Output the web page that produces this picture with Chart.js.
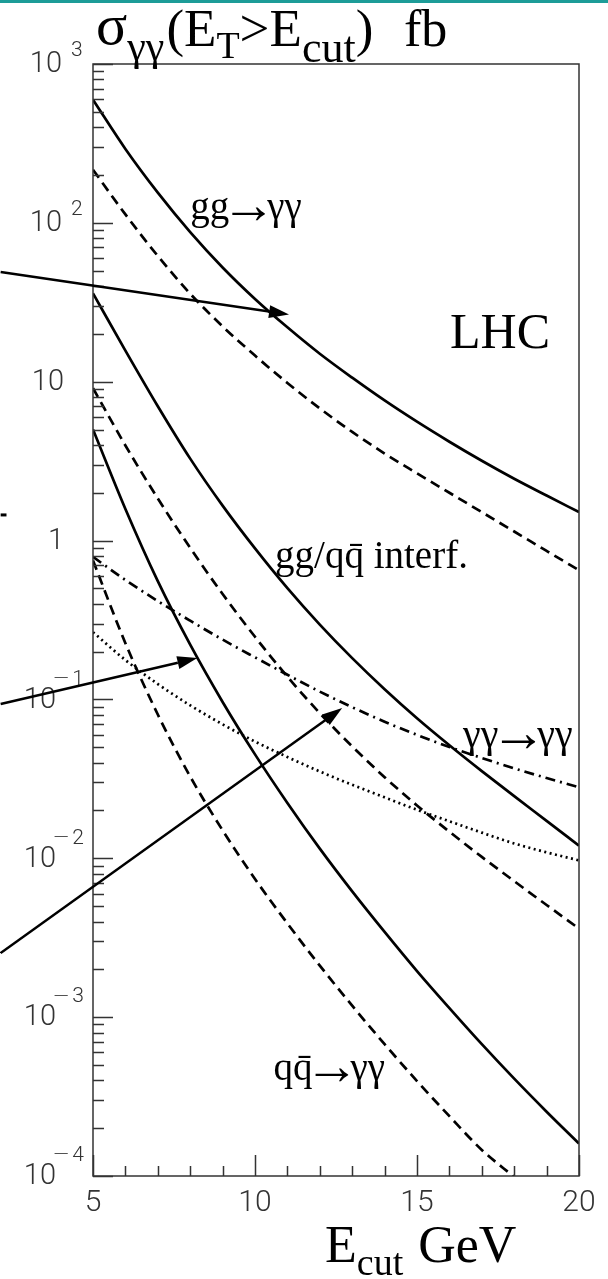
<!DOCTYPE html>
<html>
<head>
<meta charset="utf-8">
<script src="https://cdn.jsdelivr.net/npm/chart.js@4.4.1/dist/chart.umd.min.js"></script>
<style>
  html, body { margin: 0; padding: 0; background: #fff; }
  #wrap { position: relative; width: 608px; height: 1279px; }
</style>
</head>
<body>
<div id="wrap"><canvas id="chart" width="608" height="1279"></canvas></div>
<script>
// E_cut values (GeV)
const energies = [5, 6, 7, 8, 9, 10, 11, 12, 13, 14, 15, 16, 17, 18, 19, 20];

// cross sections in fb
const ggSolid = [596, 292, 155, 87.5, 52.4, 33.2, 22.0, 15.0, 10.6, 7.62, 5.60, 4.19, 3.18, 2.45, 1.92, 1.51];
const ggDashed = [216, 113, 61.9, 35.8, 22.3, 14.6, 9.82, 6.79, 4.83, 3.53, 2.65, 2.00, 1.51, 1.14, 0.861, 0.650];
const interfSolid = [36.0, 15.7, 7.01, 3.28, 1.66, 0.893, 0.502, 0.296, 0.182, 0.116, 0.0762, 0.0515, 0.0354, 0.0246, 0.0172, 0.0120];
const interfDashed = [9.10, 3.97, 1.84, 0.899, 0.461, 0.248, 0.139, 0.0820, 0.0506, 0.0324, 0.0215, 0.0147, 0.0102, 0.00718, 0.00508, 0.00361];
const qqSolid = [5.00, 1.58, 0.555, 0.221, 0.0964, 0.0451, 0.0223, 0.0115, 0.00619, 0.00344, 0.00195, 0.00114, 0.000676, 0.000410, 0.000254, 0.000160];
const qqDashed = [0.750, 0.226, 0.0804, 0.0327, 0.0150, 0.00741, 0.00389, 0.00211, 0.00118, 0.000676, 0.000396, 0.000238, 0.000146, 0.0000986];
const gamgamDashDot = [0.789, 0.565, 0.416, 0.313, 0.238, 0.184, 0.143, 0.112, 0.0893, 0.0724, 0.0598, 0.0502, 0.0428, 0.0368, 0.0320, 0.0280];
const gamgamDotted = [0.265, 0.177, 0.125, 0.0918, 0.0697, 0.0543, 0.0434, 0.0352, 0.0290, 0.0242, 0.0202, 0.0171, 0.0145, 0.0124, 0.0109, 0.0097];

// axis ticks
const xTicks = [5, 6, 7, 8, 9, 10, 11, 12, 13, 14, 15, 16, 17, 18, 19, 20];
const xTickLabels = [5, 10, 15, 20];
const yDecades = [-4, -3, -2, -1, 0, 1, 2, 3];

// text in the plot, placed at data coordinates [E, sigma]; "->" marks the arrow glyph
const curveLabels = [
  { parts: ["gg", "->", "\u03b3\u03b3"], x: 8.0, y: 106, size: 39 },
  { parts: ["LHC"], x: 16.02, y: 16.3, size: 50 },
  { parts: ["gg/qq\u0304 interf."], x: 10.62, y: 0.67, size: 39 },
  { parts: ["\u03b3\u03b3", "->", "\u03b3\u03b3"], x: 16.42, y: 0.050, size: 40 },
  { parts: ["qq\u0304", "->", "\u03b3\u03b3"], x: 10.57, y: 4.0e-4, size: 39 },
];

// arrows coming in from the left of the frame: [tailE, tailSigma, headE, headSigma]
const arrows = [
  [2.15, 49, 11.05, 26.5],
  [2.15, 0.0935, 8.22, 0.182],
  [2.15, 0.00253, 12.69, 0.0883],
];
const stubs = [[2.15, 1.45, 2.33, 1.45]];

function series(vals) {
  return vals.map((v, i) => ({ x: energies[i], y: v }));
}

const serif = "'Liberation Serif', 'Times New Roman', serif";
const sans = "Roboto, 'Liberation Sans', 'DejaVu Sans', sans-serif";

function drawRuns(ctx, x, runs) {
  runs.forEach((r) => {
    ctx.font = r.font;
    ctx.fillText(r.t, x, r.y);
    x += ctx.measureText(r.t).width + (r.gap || 0);
  });
}

const decorPlugin = {
  id: "decor",
  afterDraw(chart) {
    const ctx = chart.ctx;
    const xs = chart.scales.x;
    const ys = chart.scales.y;
    const a = chart.chartArea;
    ctx.save();

    // teal band on top of the slide
    ctx.fillStyle = "#1d9c98";
    ctx.fillRect(0, 0, 608, 3);

    // frame
    ctx.strokeStyle = "#333";
    ctx.lineWidth = 1.5;
    ctx.strokeRect(a.left, a.top, a.right - a.left, a.bottom - a.top);

    // y ticks (inside, on the left)
    ctx.beginPath();
    yDecades.forEach((d) => {
      for (let m = 1; m <= 9; m++) {
        const v = m * Math.pow(10, d);
        if (v < ys.min * 0.999 || v > ys.max * 1.001) continue;
        const py = Math.round(ys.getPixelForValue(v)) + 0.5;
        ctx.moveTo(a.left, py);
        ctx.lineTo(a.left + (m === 1 ? 20 : 11), py);
      }
    });
    // x ticks (inside, on the bottom)
    xTicks.forEach((e) => {
      const px = Math.round(xs.getPixelForValue(e)) + 0.5;
      ctx.moveTo(px, a.bottom);
      ctx.lineTo(px, a.bottom - (e % 5 === 0 ? 21 : 10));
    });
    ctx.stroke();

    // y tick labels: 10 with a raised exponent
    ctx.fillStyle = "#333";
    ctx.textBaseline = "middle";
    yDecades.forEach((d) => {
      const py = ys.getPixelForValue(Math.pow(10, d));
      ctx.font = "300 29px " + sans;
      ctx.textAlign = "right";
      if (d === 0 || d === 1) {
        ctx.fillText(d === 0 ? "1" : "10", 64, py + 1);
        return;
      }
      if (d > 0) {
        ctx.fillText("10", 62, py + 1);
        ctx.font = "300 21px " + sans;
        ctx.textAlign = "left";
        ctx.fillText(String(d), 71, py - 13);
      } else {
        ctx.fillText("10", 56, py + 1);
        ctx.font = "300 21px " + sans;
        ctx.fillText(String(-d), 84, py - 20);
        ctx.font = "200 21px 'DejaVu Sans', sans-serif";
        ctx.fillText("\u2212", 70, py - 21);
      }
    });

    // x tick labels
    ctx.font = "300 30px " + sans;
    ctx.textAlign = "center";
    ctx.textBaseline = "alphabetic";
    xTickLabels.forEach((e) => {
      ctx.fillText(String(e), xs.getPixelForValue(e), a.bottom + 35);
    });

    // title and axis label
    ctx.fillStyle = "#000";
    ctx.textAlign = "left";
    drawRuns(ctx, 96, [
      { t: "\u03c3", font: "58px " + serif, y: 44 },
      { t: "\u03b3\u03b3", font: "42px " + serif, y: 60, gap: 2 },
      { t: "(E", font: "53px " + serif, y: 46 },
      { t: "T", font: "38px " + serif, y: 58 },
      { t: ">E", font: "53px " + serif, y: 46 },
      { t: "cut", font: "44px " + serif, y: 62 },
      { t: ")", font: "53px " + serif, y: 46 },
    ]);
    ctx.font = "52px " + serif;
    ctx.fillText("fb", 404, 46);

    drawRuns(ctx, 325, [
      { t: "E", font: "52px " + serif, y: 1262 },
      { t: "cut", font: "38px " + serif, y: 1275, gap: 2 },
      { t: " GeV", font: "52px " + serif, y: 1262 },
    ]);

    // labels in the plot; the arrow glyph is set larger to get a long thin arrow
    curveLabels.forEach((l) => {
      const base = ys.getPixelForValue(l.y);
      drawRuns(ctx, xs.getPixelForValue(l.x), l.parts.map((p, i) =>
        p === "->"
          ? { t: "\u2192", font: Math.round(l.size * 1.4) + "px " + serif, y: base + 4, gap: -9 }
          : { t: p, font: l.size + "px " + serif, y: base, gap: l.parts[i + 1] === "->" ? -8 : 1 }
      ));
    });

    // arrows
    ctx.strokeStyle = "#000";
    ctx.lineWidth = 2.5;
    arrows.forEach(([e0, s0, e1, s1]) => {
      const x0 = xs.getPixelForValue(e0), y0 = ys.getPixelForValue(s0);
      const x1 = xs.getPixelForValue(e1), y1 = ys.getPixelForValue(s1);
      const ang = Math.atan2(y1 - y0, x1 - x0);
      const hl = 20, hw = 6.5;
      const bx = x1 - hl * Math.cos(ang), by = y1 - hl * Math.sin(ang);
      ctx.beginPath();
      ctx.moveTo(x0, y0);
      ctx.lineTo(bx, by);
      ctx.stroke();
      ctx.beginPath();
      ctx.moveTo(x1, y1);
      ctx.lineTo(bx + hw * Math.sin(ang), by - hw * Math.cos(ang));
      ctx.lineTo(bx - hw * Math.sin(ang), by + hw * Math.cos(ang));
      ctx.closePath();
      ctx.fill();
    });
    ctx.lineWidth = 3;
    stubs.forEach(([e0, s0, e1, s1]) => {
      ctx.beginPath();
      ctx.moveTo(xs.getPixelForValue(e0), ys.getPixelForValue(s0));
      ctx.lineTo(xs.getPixelForValue(e1), ys.getPixelForValue(s1));
      ctx.stroke();
    });
    ctx.restore();
  },
};

const dashed = [10, 6];
const dashDot = [10, 5, 2, 5];
const dotted = [2, 3.5];

new Chart(document.getElementById("chart"), {
  type: "line",
  data: {
    datasets: [
      { label: "gg\u2192\u03b3\u03b3", data: series(ggSolid) },
      { label: "gg\u2192\u03b3\u03b3 (dashed)", data: series(ggDashed), borderDash: dashed },
      { label: "gg/qq\u0304 interf.", data: series(interfSolid) },
      { label: "gg/qq\u0304 interf. (dashed)", data: series(interfDashed), borderDash: dashed },
      { label: "qq\u0304\u2192\u03b3\u03b3", data: series(qqSolid) },
      { label: "qq\u0304\u2192\u03b3\u03b3 (dashed)", data: series(qqDashed), borderDash: dashed },
      { label: "\u03b3\u03b3\u2192\u03b3\u03b3", data: series(gamgamDashDot), borderDash: dashDot },
      { label: "\u03b3\u03b3\u2192\u03b3\u03b3 (dotted)", data: series(gamgamDotted), borderDash: dotted },
    ],
  },
  options: {
    responsive: false,
    animation: false,
    layout: { padding: { left: 93, right: 29, top: 64, bottom: 103 } },
    plugins: { legend: { display: false }, tooltip: { enabled: false } },
    elements: {
      point: { radius: 0, hoverRadius: 0 },
      line: { borderColor: "#000", borderWidth: 2.7, cubicInterpolationMode: "monotone", fill: false },
    },
    scales: {
      x: { type: "linear", min: 5, max: 20, display: false },
      y: { type: "logarithmic", min: 1e-4, max: 1e3, display: false },
    },
  },
  plugins: [decorPlugin],
});
</script>
</body>
</html>
